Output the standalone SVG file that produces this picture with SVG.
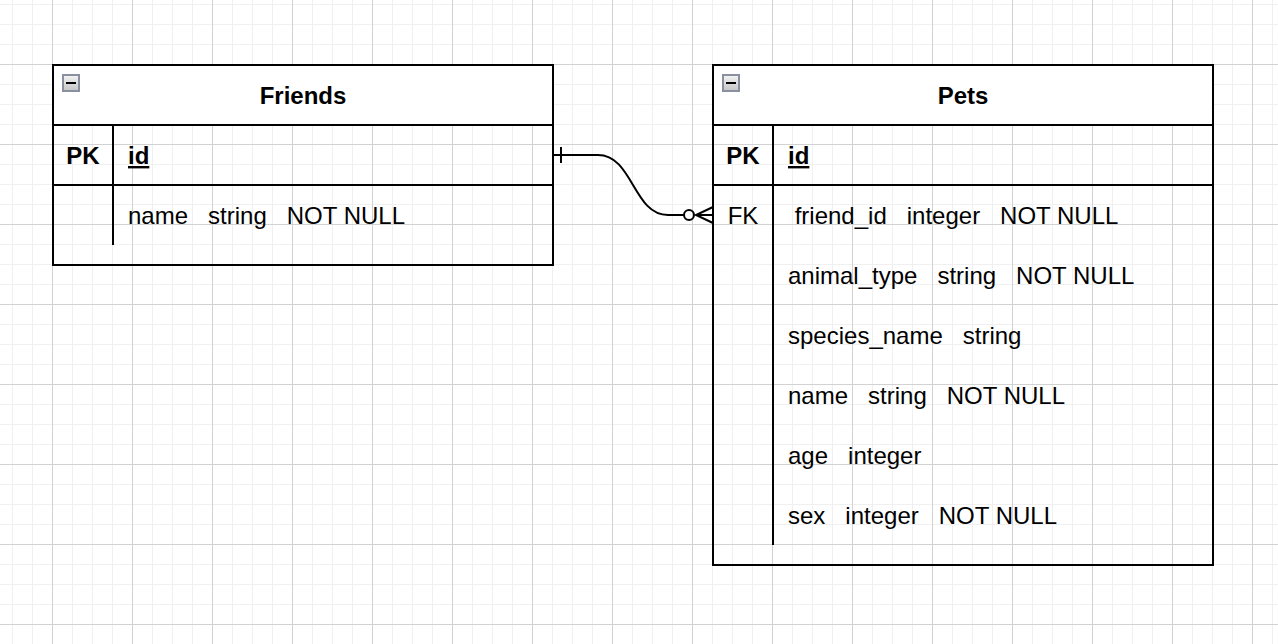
<svg xmlns="http://www.w3.org/2000/svg" width="1278" height="644" viewBox="0 0 1278 644" xml:space="preserve">
<style>
text { font-family: "Liberation Sans", Arial, sans-serif; font-size: 24px; fill: #000; white-space: pre; }
.title { font-weight: bold; text-anchor: middle; }
.key { font-weight: bold; text-anchor: middle; }
.fk { text-anchor: middle; }
.pkid { font-weight: bold; text-decoration: underline; }
.box { fill: none; stroke: #000; stroke-width: 2; }
.head { fill: #fff; stroke: none; }
.ln { stroke: #000; stroke-width: 2; fill: none; }
.icon { fill: url(#ig); stroke: #8a90a0; stroke-width: 2; }
.minus { stroke: #000; stroke-width: 2; }
</style>
<defs>
<pattern id="gminor" x="12" y="4" width="20" height="20" patternUnits="userSpaceOnUse">
<path d="M0,0.5 H20 M0.5,0 V20" stroke="#f0f0f0" stroke-width="1" fill="none"/>
</pattern>
<pattern id="gmajor" x="52" y="64" width="80" height="80" patternUnits="userSpaceOnUse">
<path d="M0,0.5 H80 M0.5,0 V80" stroke="#d2d2d2" stroke-width="1" fill="none"/>
</pattern>
<linearGradient id="ig" x1="0" y1="0" x2="0" y2="1">
<stop offset="0" stop-color="#f4f4f4"/>
<stop offset="1" stop-color="#c4c4c4"/>
</linearGradient>
</defs>
<rect width="1278" height="644" fill="#fff"/>
<rect width="1278" height="644" fill="url(#gminor)"/>
<rect width="1278" height="644" fill="url(#gmajor)"/>

<g id="friends">
<rect class="head" x="53" y="65" width="500" height="60"/>
<rect class="box" x="53" y="65" width="500" height="200"/>
<rect class="icon" x="63" y="75" width="16" height="16"/>
<line class="minus" x1="66" y1="83" x2="76" y2="83"/>
<text class="title" x="303" y="103.5">Friends</text>
<line class="ln" x1="53" y1="125" x2="553" y2="125"/>
<line class="ln" x1="53" y1="185" x2="553" y2="185"/>
<line class="ln" x1="113" y1="125" x2="113" y2="245"/>
<text class="key" x="83" y="164">PK</text>
<text class="pkid" x="128" y="164">id</text>
<text x="128" y="224">name   string   NOT NULL</text>
</g>

<g id="pets">
<rect class="head" x="713" y="65" width="500" height="60"/>
<rect class="box" x="713" y="65" width="500" height="500"/>
<rect class="icon" x="723" y="75" width="16" height="16"/>
<line class="minus" x1="726" y1="83" x2="736" y2="83"/>
<text class="title" x="963" y="103.5">Pets</text>
<line class="ln" x1="713" y1="125" x2="1213" y2="125"/>
<line class="ln" x1="713" y1="185" x2="1213" y2="185"/>
<line class="ln" x1="773" y1="125" x2="773" y2="545"/>
<text class="key" x="743" y="164">PK</text>
<text class="pkid" x="788" y="164">id</text>
<text class="fk" x="743" y="224">FK</text>
<text x="788" y="224"> friend_id   integer   NOT NULL</text>
<text x="788" y="284">animal_type   string   NOT NULL</text>
<text x="788" y="344">species_name   string</text>
<text x="788" y="404">name   string   NOT NULL</text>
<text x="788" y="464">age   integer</text>
<text x="788" y="524">sex   integer   NOT NULL</text>
</g>

<g id="connectors">
<path class="ln" d="M553,155 H598 C633,155 633,215 668,215 H684"/>
<line class="ln" x1="561" y1="147" x2="561" y2="163"/>
<circle class="ln" cx="689" cy="215" r="5"/>
<path class="ln" d="M713,207 L696,215 L713,223 M696,215 H713"/>
</g>
</svg>
